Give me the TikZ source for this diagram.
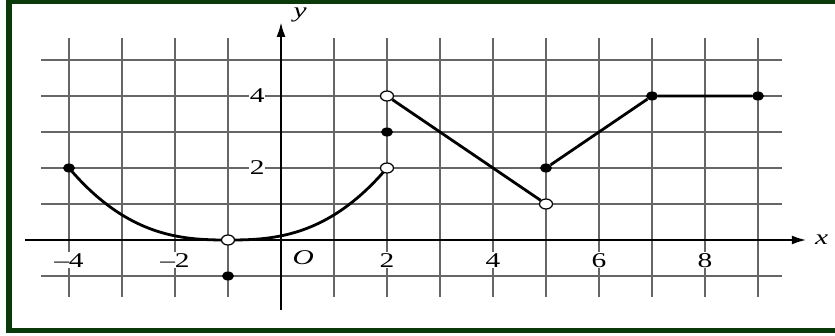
\documentclass[tikz,border=0pt]{standalone}
\usepackage{fontspec}
\setmainfont{Liberation Serif}[FakeStretch=1.4]
\usetikzlibrary{shapes.geometric,arrows.meta}
\definecolor{framegreen}{RGB}{10,58,10}
\begin{document}
\begin{tikzpicture}[x=53pt,y=36pt,font=\fontsize{21}{25}\selectfont,>={Latex[length=15pt,width=9pt]},
  gridline/.style={black!60,line width=1.5pt},
  axisline/.style={black,line width=2.5pt},
  graphline/.style={black,line width=2.8pt},
  filldot/.style={ellipse,fill=black,inner sep=0pt,minimum width=12pt,minimum height=9pt},
  opendot/.style={ellipse,draw=black,line width=1.2pt,fill=white,inner sep=0pt,minimum width=13pt,minimum height=10pt},
  ticklabel/.style={fill=white,inner sep=1pt}]
  \useasboundingbox (-281pt,-95pt) rectangle (554pt,240pt);
  % frame
  \fill[framegreen] (-275pt,-93.3pt) rectangle (-269pt,240pt);
  \fill[framegreen] (-275pt,236pt) rectangle (554pt,240pt);
  \fill[framegreen] (-275pt,-93.3pt) rectangle (554pt,-87.7pt);
  % grid
  \foreach \col in {-4,...,9}
    \draw[gridline] (\col,-1.58) -- (\col,5.61);
  \foreach \row in {-1,1,2,3,4,5}
    \draw[gridline] (-4.53,\row) -- (9.45,\row);
  \foreach \tick/\labeltext in {-4/{–4},-2/{–2},2/2,4/4,6/6,8/8}
    \node[ticklabel] (xlabel\tick) at (\tick,-0.56) {\labeltext};
  \node[ticklabel] (ylabel4) at (-0.45,4) {4};
  \node[ticklabel] (ylabel2) at (-0.45,2) {2};
  \node (origin) at (0.42,-0.5) {\textit{O}};
  % axes
  \coordinate (xstart) at (-4.83,0);
  \coordinate (xend) at (9.92,0);
  \coordinate (ystart) at (0,-1.94);
  \coordinate (yend) at (0,6.06);
  \draw[axisline,->] (xstart) -- (xend);
  \draw[axisline,->] (ystart) -- (yend);
  \node (xname) at (10.2,0) {\textit{x}};
  \node (yname) at (0.36,6.25) {\textit{y}};
  % graph
  \draw[graphline] plot[domain=-4:2,samples=81,variable=\xval]
    ({\xval},{2*((abs(\xval+1)+0.0001)/3)^2.6});
  \node[filldot] (leftend) at (-4,2) {};
  \node[opendot] (vertex) at (-1,0) {};
  \node[filldot] (isolated) at (-1,-1) {};
  \node[opendot] (curveend) at (2,2) {};
  \node[filldot] (jumpdot) at (2,3) {};
  \node[opendot] (segstart) at (2,4) {};
  \node[opendot] (seglow) at (5,1) {};
  \node[filldot] (risestart) at (5,2) {};
  \node[filldot] (peak) at (7,4) {};
  \node[filldot] (rightend) at (9,4) {};
  \draw[graphline] (segstart) -- (seglow);
  \draw[graphline] (risestart) -- (peak) -- (rightend);
\end{tikzpicture}
\end{document}
